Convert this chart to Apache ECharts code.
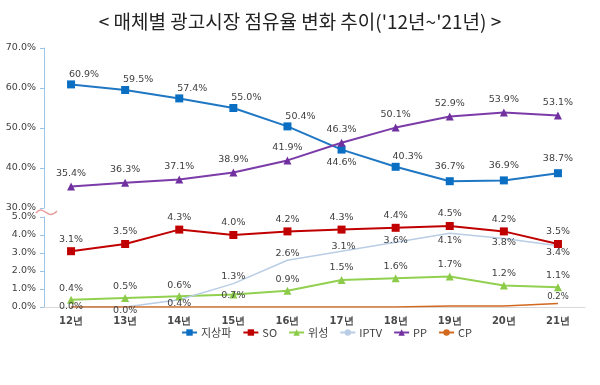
<!DOCTYPE html>
<html>
<head>
<meta charset="utf-8">
<script src="https://cdn.jsdelivr.net/npm/echarts@6/dist/echarts.min.js"></script>
<style>html,body{margin:0;padding:0;background:#fff}#c{width:600px;height:385px}</style>
</head>
<body>
<div id="c"></div>
<script>
const years = ['12년','13년','14년','15년','16년','17년','18년','19년','20년','21년'];
const terrestrial = [60.9,59.5,57.4,55.0,50.4,44.6,40.3,36.7,36.9,38.7];
const pp = [35.4,36.3,37.1,38.9,41.9,46.3,50.1,52.9,53.9,53.1];
const so = [3.1,3.5,4.3,4.0,4.2,4.3,4.4,4.5,4.2,3.5];
const satellite = [0.4,0.5,0.6,0.7,0.9,1.5,1.6,1.7,1.2,1.1];
const iptv = [0.0,0.0,0.4,1.3,2.6,3.1,3.6,4.1,3.8,3.4];
const cp = [0.0,0.0,0.0,0.0,0.0,0.0,0.0,0.05,0.05,0.2];
const upperTicks = [30,70,10];
const lowerTicks = [0,5,1];

const LBL = {fontFamily:'DejaVu Sans', fontSize:9.5, color:'#404040'};
const pct = v => Number(v).toFixed(1) + '%';

function withLabels(vals, place) {
  return vals.map((v,i) => {
    const p = place[i];
    if (!p) return {value:v, label:{show:false}};
    return {value:v, label:{show:true, position:p[0], distance:p[1], offset:[p[2]||0, p[3]||0]}};
  });
}

const terrPlace = [['top',1,13],['top',1,13],['top',1,13],['top',1,13],['top',1,13],['bottom',4,0],['top',1,12],['top',6,0],['top',6,0],['top',6,0]];
const ppPlace = years.map(() => ['top',4,0]);
const soPlace = years.map(() => ['top',3,0]);
const satPlace = [['top',2],['top',2],['top',2],['inside',0,0,1],['top',2],['top',3],['top',3],['top',3],['top',3],['top',3]];
const iptvPlace = [['inside',0,0,0],['bottom',-1],['bottom',-1],['top',2],['top',2],['inside',0,2,-5],['inside',0,0,-2],['bottom',2],['bottom',-1],['bottom',2]];
const cpPlace = [null,null,null,null,null,null,null,null,null,['top',2]];

const chart = echarts.init(document.getElementById('c'));
chart.setOption({
  animation:false,
  backgroundColor:'#fff',
  title:{text:"< 매체별 광고시장 점유율 변화 추이('12년~'21년) >", left:'center', top:7,
    textStyle:{fontFamily:'Noto Sans CJK KR', fontSize:19, fontWeight:'normal', color:'#222'}},
  legend:{
    data:['지상파','SO','위성','IPTV','PP','CP'],
    left:176, top:322, itemWidth:15, itemHeight:8, itemGap:11,
    textStyle:{fontFamily:'Noto Sans CJK KR', fontSize:11, color:'#404040', padding:[0,0,0,-1]}
  },
  grid:[
    {left:44, right:15, top:48, height:160, containLabel:false, outerBoundsMode:'none'},
    {left:44, right:15, top:217, height:90, containLabel:false, outerBoundsMode:'none'}
  ],
  xAxis:[
    {gridIndex:0, type:'category', data:years, show:false},
    {gridIndex:1, type:'category', data:years,
      axisLine:{lineStyle:{color:'#D9D9D9', width:1}}, axisTick:{show:false},
      axisLabel:{fontFamily:'DejaVu Sans', fontSize:10, fontWeight:'bold', color:'#4a4a4a', margin:9}}
  ],
  yAxis:[
    {gridIndex:0, type:'value', min:upperTicks[0], max:upperTicks[1], interval:upperTicks[2],
      axisLine:{show:true, lineStyle:{color:'#9DC3E6'}}, axisTick:{show:true, length:4, lineStyle:{color:'#9DC3E6'}},
      splitLine:{show:false},
      axisLabel:{formatter:pct, fontFamily:'DejaVu Sans', fontSize:9.5, color:'#404040', margin:8}},
    {gridIndex:1, type:'value', min:lowerTicks[0], max:lowerTicks[1], interval:lowerTicks[2],
      axisLine:{show:true, lineStyle:{color:'#9DC3E6'}}, axisTick:{show:true, length:4, lineStyle:{color:'#9DC3E6'}},
      splitLine:{show:false},
      axisLabel:{formatter:pct, fontFamily:'DejaVu Sans', fontSize:9.5, color:'#404040', margin:8}}
  ],
  series:[
    {name:'지상파', type:'line', xAxisIndex:0, yAxisIndex:0, data:withLabels(terrestrial, terrPlace),
      symbol:'rect', symbolSize:8, lineStyle:{width:2, color:'#1F77C4'}, itemStyle:{color:'#0A6FC2'},
      label:{...LBL, formatter:p=>pct(p.value)}},
    {name:'SO', type:'line', xAxisIndex:1, yAxisIndex:1, data:withLabels(so, soPlace),
      symbol:'rect', symbolSize:8, lineStyle:{width:2, color:'#C00000'}, itemStyle:{color:'#C00000'},
      label:{...LBL, formatter:p=>pct(p.value)}},
    {name:'위성', type:'line', xAxisIndex:1, yAxisIndex:1, data:withLabels(satellite, satPlace),
      symbol:'triangle', symbolSize:8, lineStyle:{width:2, color:'#92D050'}, itemStyle:{color:'#8CCB4A'},
      label:{...LBL, formatter:p=>pct(p.value)}},
    {name:'IPTV', type:'line', xAxisIndex:1, yAxisIndex:1, data:withLabels(iptv, iptvPlace),
      symbol:'circle', symbolSize:0, showSymbol:true, lineStyle:{width:1.5, color:'#B9CDE5'}, itemStyle:{color:'#B9CDE5'},
      label:{...LBL, formatter:p=>pct(p.value)}},
    {name:'PP', type:'line', xAxisIndex:0, yAxisIndex:0, data:withLabels(pp, ppPlace),
      symbol:'triangle', symbolSize:8, lineStyle:{width:2, color:'#7B3BA8'}, itemStyle:{color:'#7030A0'},
      label:{...LBL, formatter:p=>pct(p.value)}},
    {name:'CP', type:'line', xAxisIndex:1, yAxisIndex:1, data:withLabels(cp, cpPlace),
      symbol:'circle', symbolSize:0, showSymbol:true, lineStyle:{width:1.5, color:'#D2691E'}, itemStyle:{color:'#D2691E'},
      label:{...LBL, fontSize:8.5, formatter:p=>pct(p.value)}}
  ],
  graphic:[
    {type:'bezierCurve', z:100,
      shape:{x1:36, y1:213, x2:57, y2:211, cpx1:44, cpy1:203, cpx2:47, cpy2:222},
      style:{stroke:'#E9A0A0', lineWidth:1.5, fill:null}}
  ]
});
</script>
</body>
</html>
